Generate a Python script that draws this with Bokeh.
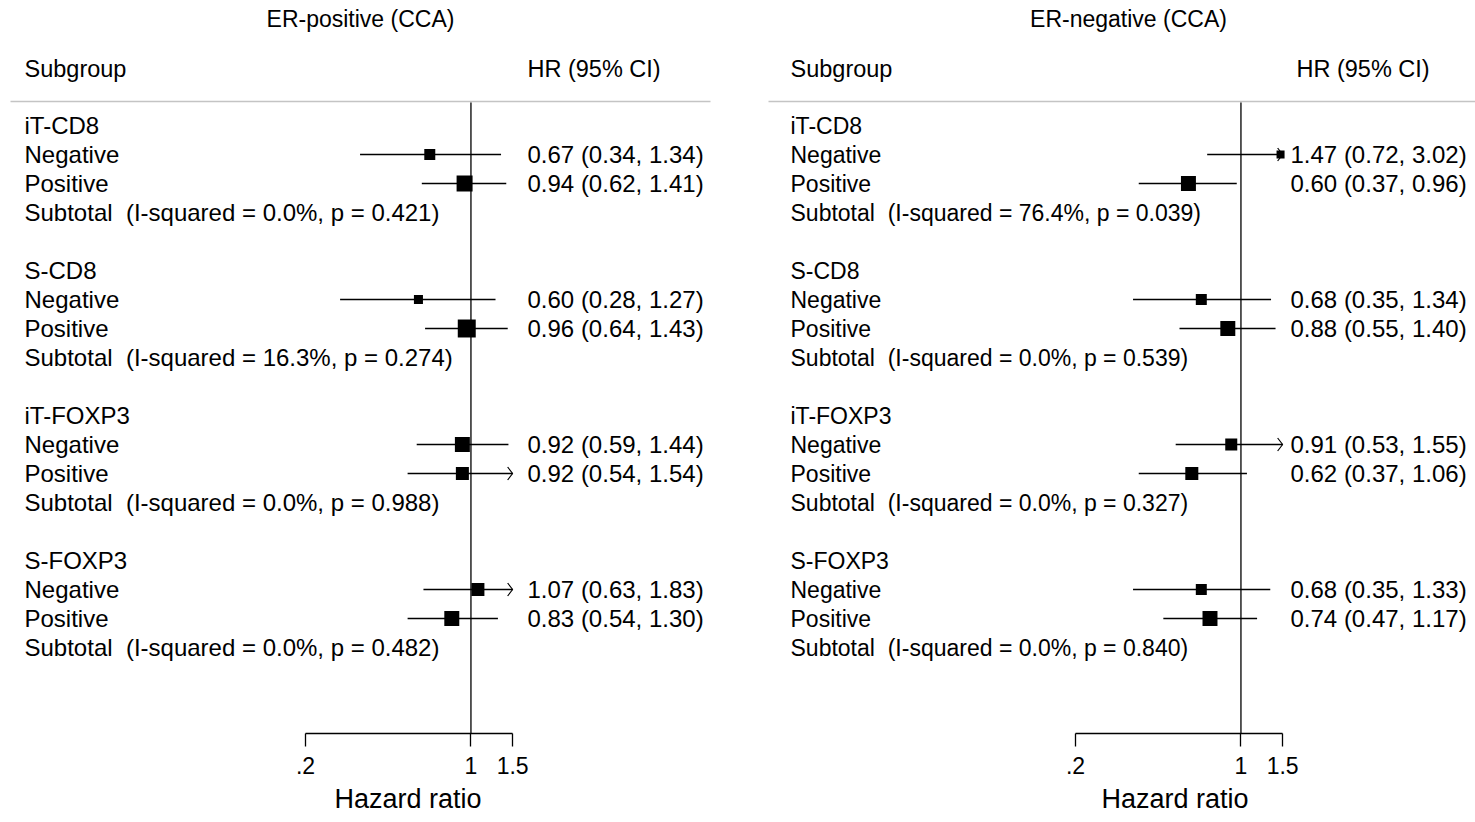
import numpy as np
from bokeh.plotting import figure
from bokeh.layouts import row
from bokeh.models import Range1d, ColumnDataSource, FixedTicker, LogAxis, Title
from bokeh.core.properties import value
from bokeh.embed import file_html
from bokeh.resources import INLINE

# ---- data -------------------------------------------------------------
markers = ["iT-CD8", "S-CD8", "iT-FOXP3", "S-FOXP3"]
levels = ["Negative", "Positive"]

# ER-positive, complete-case analysis (Negative, Positive per marker)
pos_hr = [0.67, 0.94, 0.60, 0.96, 0.92, 0.92, 1.07, 0.83]
pos_lo = [0.34, 0.62, 0.28, 0.64, 0.59, 0.54, 0.63, 0.54]
pos_hi = [1.34, 1.41, 1.27, 1.43, 1.44, 1.54, 1.83, 1.30]
pos_wt = [7.7, 16.3, 5.2, 20.6, 14.3, 10.8, 10.8, 14.3]
pos_i2 = [0.0, 16.3, 0.0, 0.0]
pos_p = [0.421, 0.274, 0.988, 0.482]

# ER-negative, complete-case analysis
neg_hr = [1.47, 0.60, 0.68, 0.88, 0.91, 0.62, 0.68, 0.74]
neg_lo = [0.72, 0.37, 0.35, 0.55, 0.53, 0.37, 0.35, 0.47]
neg_hi = [3.02, 0.96, 1.34, 1.40, 1.55, 1.06, 1.33, 1.17]
neg_wt = [4.1, 14.3, 7.7, 14.3, 9.2, 10.8, 7.7, 14.3]
neg_i2 = [76.4, 0.0, 0.0, 0.0]
neg_p = [0.039, 0.539, 0.327, 0.840]

axis_ticks = [0.2, 1, 1.5]
axis_tick_labels = [".2", "1", "1.5"]

# ---- layout constants -------------------------------------------------
FONT = "Liberation Sans"
PX_PER_LN = 102.8      # horizontal pixels per unit of ln(HR)
ROW_PX = 29            # vertical spacing of rows
FIRST_ROW_PX = 125     # centre of the first row
AXIS_PX = 733          # bottom of the plotting frame / axis line
H = 822
AX_LO, AX_HI = axis_ticks[0], axis_ticks[-1]


def panel(title, hr, lo, hi, wt, i2, pval, W, lay):
    hr, lo, hi, wt = map(np.asarray, (hr, lo, hi, wt))
    x_start = AX_LO * np.exp(-lay["axis_px"] / PX_PER_LN)
    x_end = AX_LO * np.exp((W - lay["axis_px"]) / PX_PER_LN)

    def xd(px):
        return float(x_start * np.exp(px / PX_PER_LN))

    def yd(px):
        return (px - FIRST_ROW_PX) / ROW_PX

    p = figure(width=W, height=H, x_axis_type="log", x_axis_location=None,
               y_axis_location=None, output_backend="svg", toolbar_location=None,
               x_range=Range1d(x_start, x_end),
               y_range=Range1d(yd(AXIS_PX), yd(0)),
               min_border_left=0, min_border_right=0, min_border_top=0,
               min_border_bottom=H - AXIS_PX)
    p.outline_line_color = None
    p.background_fill_color = "white"
    p.border_fill_color = "white"
    p.xgrid.visible = False
    p.ygrid.visible = False

    # row indices: header, Negative, Positive, Subtotal, blank
    head_y = [5 * g for g in range(len(markers))]
    study_y = [5 * g + k + 1 for g in range(len(markers)) for k in range(len(levels))]
    sub_y = [5 * g + 3 for g in range(len(markers))]

    # header, separator, null line
    p.text(x=[xd(lay["title_px"])], y=[yd(18)], text=[title],
           text_font=value(FONT), text_font_size="23px",
           text_align="center", text_baseline="middle", text_color="black")
    p.text(x=[xd(lay["label_px"]), xd(lay["head_px"])], y=[yd(68), yd(68)],
           text=["Subgroup", "HR (95% CI)"], text_font=value(FONT),
           text_font_size="23.5px", text_baseline="middle", text_color="black")
    p.segment(x0=[xd(lay["sep0"])], x1=[xd(lay["sep1"])], y0=[yd(101)], y1=[yd(101)],
              line_color="#c4c4c4", line_width=1.5)
    p.segment(x0=[1], x1=[1], y0=[yd(102)], y1=[yd(AXIS_PX)],
              line_color="black", line_width=1.3)

    # confidence intervals, clipped to the axis range
    lo_c = np.maximum(lo, AX_LO)
    hi_c = np.minimum(hi, AX_HI)
    ci = ColumnDataSource(dict(x0=lo_c, x1=hi_c, y=study_y))
    p.segment(x0="x0", x1="x1", y0="y", y1="y", source=ci,
              line_color="black", line_width=1.3)

    # point estimates, box area proportional to weight
    pts = ColumnDataSource(dict(x=hr, y=study_y, size=3.96 * np.sqrt(wt)))
    p.scatter(x="x", y="y", size="size", marker="square", source=pts,
              fill_color="black", line_color="black", line_width=0)

    # open arrowheads where the interval runs past the axis
    f = np.exp(-5 / PX_PER_LN)
    dy = 6.5 / ROW_PX
    xs, ys = [], []
    for h, y in zip(hi, study_y):
        if h > AX_HI:
            xs.append([AX_HI * f, AX_HI, AX_HI * f])
            ys.append([y - dy, y, y + dy])
    if xs:
        p.multi_line(xs=xs, ys=ys, line_color="black", line_width=1.2)

    # left text column
    lab_text, lab_y = [], []
    for g, name in enumerate(markers):
        lab_text.append(name)
        lab_y.append(head_y[g])
        for k, lev in enumerate(levels):
            lab_text.append(lev)
            lab_y.append(study_y[2 * g + k])
        lab_text.append("Subtotal \u00a0(I-squared = %.1f%%, p = %.3f)" % (i2[g], pval[g]))
        lab_y.append(sub_y[g])
    p.text(x=[xd(lay["label_px"])] * len(lab_y), y=lab_y, text=lab_text,
           text_font=value(FONT), text_font_size=lay["label_size"],
           text_baseline="middle", text_color="black")

    # HR (95% CI) column
    val_text = ["%.2f (%.2f, %.2f)" % (a, b, c) for a, b, c in zip(hr, lo, hi)]
    p.text(x=[xd(lay["value_px"])] * len(study_y), y=study_y, text=val_text,
           text_font=value(FONT), text_font_size="24px",
           text_baseline="middle", text_color="black")

    ax = LogAxis(bounds=(AX_LO, AX_HI),
                 ticker=FixedTicker(ticks=axis_ticks, minor_ticks=[]),
                 major_label_overrides=dict(zip(axis_ticks, axis_tick_labels)))
    ax.axis_line_color = "black"
    ax.axis_line_width = 1.3
    ax.major_tick_line_color = "black"
    ax.major_tick_line_width = 1.3
    ax.major_tick_in = 0
    ax.major_tick_out = 13
    ax.minor_tick_in = 0
    ax.minor_tick_out = 0
    ax.major_label_text_font = FONT
    ax.major_label_text_font_size = "23px"
    ax.major_label_text_color = "black"
    ax.major_label_standoff = 10
    p.add_layout(ax, "below")

    # axis title, centred under the drawn part of the axis
    xt = Title(text="Hazard ratio", align="left", offset=lay["xlabel_px"],
               text_font=FONT, text_font_size="27px", text_font_style="normal",
               text_color="black", standoff=11)
    p.add_layout(xt, "below")
    return p


left = panel("ER-positive (CCA)", pos_hr, pos_lo, pos_hi, pos_wt, pos_i2, pos_p, 768,
             dict(axis_px=305, title_px=360, label_px=24, value_px=527, head_px=527,
                  sep0=10, sep1=710, xlabel_px=334, label_size="24px"))
right = panel("ER-negative (CCA)", neg_hr, neg_lo, neg_hi, neg_wt, neg_i2, neg_p, 707,
              dict(axis_px=307, title_px=360, label_px=22, value_px=522, head_px=528,
                   sep0=-5, sep1=720, xlabel_px=333, label_size="23px"))

layout = row(left, right)
open("out.html", "w").write(file_html(layout, INLINE))
